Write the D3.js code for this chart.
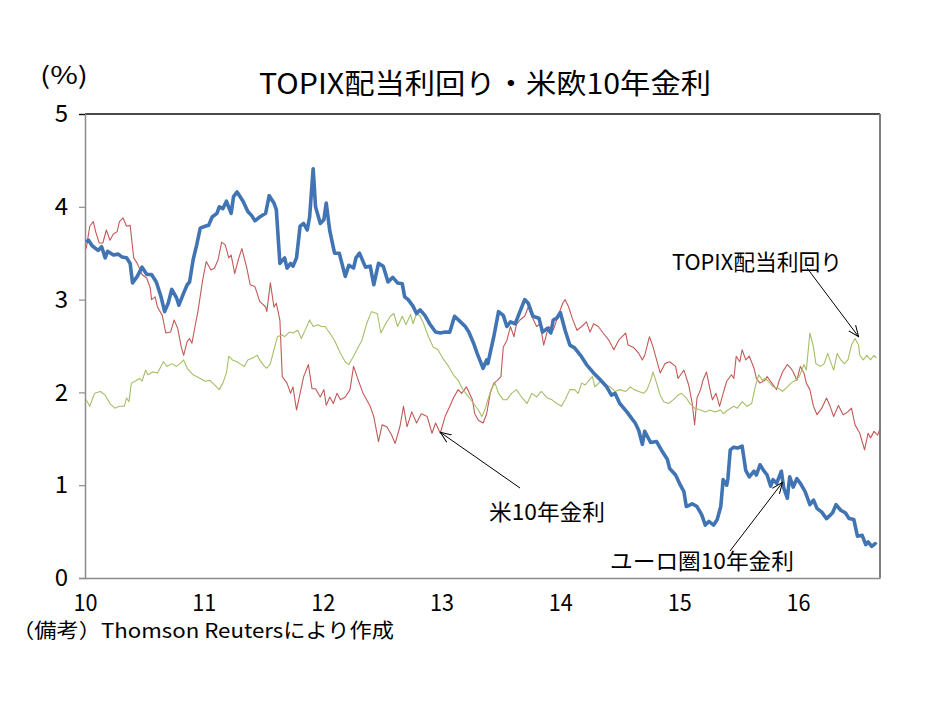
<!DOCTYPE html>
<html><head><meta charset="utf-8">
<script src="https://cdn.jsdelivr.net/npm/d3@7"></script>
<style>
html,body{margin:0;padding:0;background:#fff;}
svg{display:block;}
text{font-family:"Noto Sans CJK JP","Noto Sans",sans-serif;fill:#000;}
</style></head>
<body>
<svg id="chart" width="934" height="701"></svg>
<script>
// ---------------- data ----------------
const title = "TOPIX配当利回り・米欧10年金利";
const unitLabel = "(%)";
const note = "（備考）Thomson Reutersにより作成";
const yTicks = [0, 1, 2, 3, 4, 5];
const xTicks = [10, 11, 12, 13, 14, 15, 16];
const seriesNames = ["ユーロ圏10年金利", "米10年金利", "TOPIX配当利回り"];

// [year (decimal, 10 = 2010), %]
const euro10y = [
[10.01,3.62],[10.03,3.64],[10.06,3.58],[10.11,3.53],[10.14,3.57],[10.17,3.45],[10.19,3.52],[10.24,3.48],[10.28,3.49],[10.31,3.46],
[10.35,3.45],[10.38,3.39],[10.40,3.18],[10.44,3.25],[10.48,3.35],[10.52,3.27],[10.56,3.27],[10.60,3.19],[10.64,3.03],[10.67,2.87],
[10.70,2.96],[10.73,3.11],[10.77,3.02],[10.79,2.94],[10.83,3.07],[10.86,3.16],[10.88,3.19],[10.91,3.43],[10.94,3.59],[10.97,3.77],
[11.01,3.79],[11.04,3.80],[11.07,3.89],[11.11,3.93],[11.13,4.00],[11.16,3.98],[11.19,4.06],[11.23,3.93],[11.25,4.11],[11.28,4.16],
[11.33,4.06],[11.37,3.95],[11.40,3.91],[11.43,3.85],[11.47,3.89],[11.52,3.93],[11.55,4.12],[11.59,4.04],[11.61,3.97],[11.64,3.39],
[11.68,3.45],[11.70,3.34],[11.73,3.39],[11.75,3.36],[11.78,3.45],[11.81,3.79],[11.84,3.82],[11.87,3.75],[11.89,3.89],[11.92,4.41],
[11.94,4.00],[11.98,3.82],[12.01,3.86],[12.03,4.04],[12.06,3.74],[12.10,3.50],[12.14,3.50],[12.19,3.25],[12.22,3.37],[12.26,3.34],
[12.28,3.45],[12.31,3.50],[12.36,3.35],[12.40,3.36],[12.43,3.16],[12.47,3.39],[12.51,3.36],[12.55,3.19],[12.59,3.24],[12.63,3.18],
[12.67,3.17],[12.69,3.03],[12.72,3.00],[12.76,2.93],[12.79,2.85],[12.82,2.89],[12.86,2.83],[12.90,2.74],[12.95,2.65],[12.99,2.64],
[13.03,2.65],[13.07,2.65],[13.11,2.82],[13.16,2.76],[13.20,2.71],[13.23,2.65],[13.27,2.53],[13.30,2.42],[13.35,2.26],[13.38,2.35],
[13.39,2.31],[13.44,2.60],[13.48,2.87],[13.52,2.83],[13.55,2.71],[13.58,2.76],[13.62,2.74],[13.66,2.87],[13.70,3.00],[13.73,2.96],
[13.77,2.82],[13.82,2.80],[13.85,2.65],[13.89,2.69],[13.92,2.64],[13.94,2.78],[13.97,2.80],[14.00,2.86],[14.04,2.67],[14.08,2.51],
[14.12,2.48],[14.17,2.40],[14.22,2.30],[14.28,2.21],[14.34,2.13],[14.39,2.06],[14.43,1.97],[14.46,1.99],[14.50,1.88],[14.56,1.79],
[14.60,1.72],[14.63,1.67],[14.66,1.59],[14.69,1.44],[14.71,1.58],[14.76,1.46],[14.81,1.47],[14.85,1.38],[14.90,1.28],[14.92,1.18],
[14.97,1.11],[15.01,1.00],[15.04,0.93],[15.06,0.77],[15.11,0.80],[15.15,0.77],[15.19,0.68],[15.22,0.57],[15.25,0.61],[15.29,0.57],
[15.32,0.63],[15.35,0.77],[15.37,1.06],[15.40,1.00],[15.41,1.07],[15.43,1.38],[15.46,1.41],[15.49,1.40],[15.53,1.42],[15.56,1.16],
[15.59,1.09],[15.63,1.15],[15.65,1.11],[15.68,1.22],[15.71,1.16],[15.74,1.11],[15.77,0.99],[15.79,1.06],[15.82,1.02],[15.86,1.15],
[15.88,0.97],[15.91,0.86],[15.93,1.09],[15.96,0.98],[15.99,1.07],[16.02,1.02],[16.06,0.93],[16.10,0.79],[16.13,0.84],[16.16,0.75],
[16.20,0.71],[16.24,0.64],[16.29,0.70],[16.32,0.79],[16.36,0.73],[16.40,0.70],[16.43,0.64],[16.47,0.63],[16.50,0.45],[16.54,0.46],
[16.57,0.36],[16.59,0.39],[16.62,0.34],[16.65,0.37],[16.66,0.36]
];

const us10y = [
[10.01,3.55],[10.04,3.79],[10.07,3.84],[10.09,3.73],[10.12,3.61],[10.15,3.61],[10.18,3.75],[10.21,3.64],[10.24,3.71],[10.27,3.73],
[10.29,3.84],[10.32,3.88],[10.35,3.79],[10.38,3.80],[10.41,3.45],[10.44,3.39],[10.48,3.27],[10.52,3.23],[10.55,3.12],[10.56,3.00],
[10.59,3.03],[10.61,2.92],[10.65,2.83],[10.68,2.64],[10.72,2.65],[10.75,2.78],[10.78,2.69],[10.81,2.49],[10.83,2.40],[10.86,2.55],
[10.88,2.58],[10.90,2.53],[10.93,2.74],[10.95,2.87],[10.99,3.21],[11.02,3.41],[11.06,3.32],[11.09,3.34],[11.12,3.43],[11.15,3.62],
[11.18,3.59],[11.21,3.45],[11.23,3.48],[11.26,3.28],[11.29,3.43],[11.32,3.55],[11.36,3.35],[11.39,3.16],[11.43,3.14],[11.47,2.98],
[11.52,2.92],[11.53,2.87],[11.56,3.18],[11.59,2.92],[11.61,2.96],[11.64,2.78],[11.66,2.17],[11.70,2.10],[11.73,1.99],[11.75,2.06],
[11.78,1.81],[11.81,1.99],[11.84,2.17],[11.88,2.30],[11.91,2.04],[11.94,2.04],[11.98,1.95],[12.01,2.03],[12.03,1.86],[12.06,1.95],
[12.09,1.88],[12.12,1.99],[12.15,1.92],[12.19,1.95],[12.23,2.03],[12.26,2.28],[12.30,2.13],[12.34,1.99],[12.40,1.85],[12.43,1.74],
[12.47,1.47],[12.50,1.65],[12.54,1.63],[12.58,1.54],[12.61,1.45],[12.65,1.63],[12.68,1.85],[12.71,1.63],[12.75,1.79],[12.79,1.67],
[12.83,1.77],[12.88,1.74],[12.92,1.56],[12.95,1.67],[12.99,1.56],[13.03,1.74],[13.07,1.85],[13.10,1.94],[13.14,2.03],[13.17,1.99],
[13.21,2.06],[13.26,1.92],[13.28,1.77],[13.31,1.70],[13.35,1.67],[13.38,1.77],[13.41,1.99],[13.44,2.10],[13.47,2.13],[13.50,2.17],
[13.52,2.49],[13.55,2.56],[13.58,2.71],[13.61,2.60],[13.63,2.73],[13.66,2.78],[13.70,2.82],[13.73,2.92],[13.76,2.82],[13.80,2.71],
[13.83,2.74],[13.86,2.51],[13.90,2.71],[13.94,2.67],[13.98,2.82],[14.02,2.96],[14.04,3.00],[14.07,2.92],[14.10,2.80],[14.14,2.67],
[14.18,2.71],[14.22,2.76],[14.25,2.65],[14.28,2.74],[14.32,2.71],[14.36,2.64],[14.41,2.56],[14.45,2.46],[14.49,2.56],[14.52,2.60],
[14.55,2.64],[14.57,2.51],[14.62,2.48],[14.66,2.42],[14.69,2.35],[14.71,2.40],[14.75,2.60],[14.78,2.49],[14.81,2.35],[14.84,2.21],
[14.88,2.31],[14.92,2.33],[14.97,2.28],[14.99,2.15],[15.04,2.24],[15.08,2.08],[15.11,1.88],[15.13,1.65],[15.15,1.94],[15.18,2.03],
[15.20,2.13],[15.23,2.22],[15.26,2.03],[15.28,1.92],[15.31,1.99],[15.34,1.85],[15.37,1.99],[15.40,2.12],[15.44,2.19],[15.46,2.15],
[15.48,2.39],[15.51,2.33],[15.53,2.46],[15.56,2.35],[15.59,2.39],[15.63,2.26],[15.65,2.15],[15.68,2.10],[15.72,2.13],[15.74,2.17],
[15.78,2.10],[15.82,2.03],[15.84,2.12],[15.87,2.22],[15.91,2.30],[15.94,2.26],[15.96,2.22],[15.99,2.13],[16.02,2.28],[16.05,2.21],
[16.07,2.10],[16.10,2.03],[16.13,1.85],[16.16,1.76],[16.20,1.83],[16.24,1.94],[16.27,1.85],[16.30,1.74],[16.34,1.86],[16.38,1.76],
[16.42,1.79],[16.45,1.83],[16.48,1.65],[16.52,1.56],[16.56,1.38],[16.59,1.56],[16.61,1.51],[16.64,1.58],[16.67,1.54],[16.69,1.61]
];

const topixYield = [
[10.01,1.92],[10.04,1.85],[10.08,1.99],[10.13,2.01],[10.17,1.97],[10.21,1.88],[10.25,1.83],[10.29,1.85],[10.33,1.85],[10.35,1.94],
[10.37,1.90],[10.39,2.10],[10.42,2.12],[10.46,2.15],[10.48,2.12],[10.51,2.24],[10.53,2.19],[10.57,2.22],[10.61,2.21],[10.66,2.33],
[10.69,2.28],[10.73,2.31],[10.77,2.28],[10.80,2.31],[10.83,2.35],[10.86,2.26],[10.91,2.19],[10.97,2.15],[11.01,2.12],[11.05,2.13],
[11.09,2.08],[11.13,2.03],[11.16,2.10],[11.19,2.21],[11.21,2.39],[11.24,2.35],[11.28,2.33],[11.30,2.31],[11.34,2.28],[11.37,2.35],
[11.41,2.37],[11.45,2.40],[11.47,2.35],[11.51,2.28],[11.53,2.26],[11.56,2.31],[11.59,2.46],[11.62,2.60],[11.66,2.62],[11.68,2.60],
[11.72,2.65],[11.75,2.64],[11.79,2.67],[11.82,2.58],[11.86,2.69],[11.89,2.78],[11.92,2.71],[11.96,2.73],[11.99,2.71],[12.02,2.71],
[12.06,2.64],[12.10,2.56],[12.15,2.42],[12.19,2.33],[12.22,2.30],[12.26,2.39],[12.30,2.49],[12.33,2.56],[12.37,2.74],[12.41,2.87],
[12.46,2.85],[12.49,2.64],[12.53,2.74],[12.57,2.82],[12.60,2.85],[12.63,2.71],[12.67,2.82],[12.70,2.73],[12.74,2.84],[12.76,2.74],
[12.79,2.85],[12.82,2.82],[12.85,2.74],[12.89,2.60],[12.93,2.49],[12.97,2.46],[13.02,2.35],[13.06,2.28],[13.10,2.19],[13.14,2.13],
[13.18,2.03],[13.23,1.95],[13.27,1.88],[13.31,1.81],[13.34,1.74],[13.37,1.83],[13.39,1.92],[13.42,2.04],[13.45,2.10],[13.48,1.99],
[13.52,1.92],[13.55,1.92],[13.59,1.99],[13.63,2.03],[13.68,1.94],[13.72,1.88],[13.76,1.99],[13.80,1.95],[13.84,2.01],[13.89,1.94],
[13.93,1.92],[13.97,1.88],[14.01,1.85],[14.04,1.92],[14.08,2.03],[14.12,2.03],[14.15,1.99],[14.18,2.10],[14.21,2.08],[14.24,2.13],
[14.27,2.17],[14.29,2.06],[14.34,2.12],[14.38,2.08],[14.42,2.06],[14.46,2.01],[14.50,2.03],[14.55,2.01],[14.59,2.06],[14.62,2.03],
[14.66,2.01],[14.70,1.99],[14.73,2.03],[14.76,2.13],[14.78,2.22],[14.81,2.10],[14.84,1.97],[14.87,1.90],[14.91,1.88],[14.95,1.92],
[14.99,1.97],[15.02,1.99],[15.06,1.94],[15.09,1.88],[15.13,1.83],[15.18,1.81],[15.22,1.79],[15.26,1.81],[15.30,1.79],[15.35,1.81],
[15.37,1.77],[15.41,1.81],[15.46,1.85],[15.49,1.83],[15.53,1.90],[15.57,1.85],[15.61,1.88],[15.64,2.06],[15.67,2.19],[15.70,2.13],
[15.72,2.15],[15.75,2.12],[15.79,2.06],[15.84,2.04],[15.87,2.01],[15.91,2.06],[15.94,2.10],[15.98,2.13],[16.01,2.17],[16.05,2.30],
[16.07,2.24],[16.10,2.64],[16.13,2.49],[16.15,2.31],[16.19,2.28],[16.22,2.31],[16.25,2.42],[16.28,2.31],[16.30,2.24],[16.33,2.42],
[16.36,2.35],[16.39,2.31],[16.42,2.35],[16.45,2.51],[16.48,2.58],[16.51,2.51],[16.52,2.40],[16.55,2.35],[16.58,2.40],[16.61,2.35],
[16.64,2.40],[16.66,2.37]
];

// annotation arrow tips, in data units
const annotTips = [
  {name: "TOPIX配当利回り", t: 16.51, v: 2.60},
  {name: "米10年金利", t: 12.99, v: 1.57},
  {name: "ユーロ圏10年金利", t: 15.87, v: 1.03}
];

// ---------------- layout ----------------
const M = {left: 85, right: 880, top: 114, bottom: 578};
const svg = d3.select("#chart");

const x = d3.scaleLinear().domain([10, 16.69]).range([M.left, M.right]);
const y = d3.scaleLinear().domain([0, 5]).range([M.bottom, M.top]);

// frame: top black, right gray
svg.append("line").attr("x1", M.left).attr("x2", M.right).attr("y1", M.top).attr("y2", M.top)
  .attr("stroke", "#111").attr("stroke-width", 1.5);
svg.append("line").attr("x1", M.right).attr("x2", M.right).attr("y1", M.top).attr("y2", M.bottom)
  .attr("stroke", "#7f7f7f").attr("stroke-width", 2);

// y axis
const yAxis = svg.append("g").attr("transform", `translate(${M.left},0)`)
  .call(d3.axisLeft(y).tickValues(yTicks).tickFormat(d3.format("d")).tickSize(6).tickPadding(11));
yAxis.select(".domain").attr("stroke", "#8c8c8c").attr("stroke-width", 1.5);
yAxis.selectAll(".tick line").attr("stroke", "#8c8c8c").attr("stroke-width", 1.2);
yAxis.selectAll(".tick text").attr("font-size", 24).attr("font-family", "'Noto Sans CJK JP',sans-serif").attr("fill", "#000");
yAxis.select(".tick:last-of-type line").attr("stroke", "#111");

// x axis
const xAxis = svg.append("g").attr("transform", `translate(0,${M.bottom})`)
  .call(d3.axisBottom(x).tickValues(xTicks).tickFormat(d3.format("d")).tickSize(0));
xAxis.select(".domain").attr("stroke", "#8c8c8c").attr("stroke-width", 1.5);
xAxis.selectAll(".tick text").attr("font-size", 23).attr("y", 33).attr("dy", null)
  .attr("textLength", 24).attr("lengthAdjust", "spacingAndGlyphs")
  .attr("font-family", "'Noto Sans CJK JP',sans-serif").attr("fill", "#000");

// lines
const line = d3.line().x(d => x(d[0])).y(d => y(d[1]));
svg.append("path").datum(us10y).attr("d", line).attr("fill", "none")
  .attr("stroke", "#c25a58").attr("stroke-width", 1.1).attr("stroke-linejoin", "round");
svg.append("path").datum(topixYield).attr("d", line).attr("fill", "none")
  .attr("stroke", "#a5bf66").attr("stroke-width", 1.1).attr("stroke-linejoin", "round");
svg.append("path").datum(euro10y).attr("d", line).attr("fill", "none")
  .attr("stroke", "#4174b3").attr("stroke-width", 3.6).attr("stroke-linejoin", "round");

// title, unit, note
svg.append("text").attr("x", 485).attr("y", 94).attr("text-anchor", "middle")
  .attr("font-size", 28).attr("textLength", 452).attr("lengthAdjust", "spacingAndGlyphs").text(title);
svg.append("text").attr("x", 40).attr("y", 84).attr("font-size", 24)
  .attr("textLength", 48).attr("lengthAdjust", "spacingAndGlyphs").text(unitLabel);
svg.append("text").attr("x", 12).attr("y", 638).attr("font-size", 20)
  .attr("textLength", 382).attr("lengthAdjust", "spacingAndGlyphs").text(note);

// annotations
const defs = svg.append("defs");
defs.append("marker").attr("id", "arr").attr("viewBox", "0 -6 12 12").attr("refX", 11).attr("refY", 0)
  .attr("markerWidth", 12).attr("markerHeight", 12).attr("markerUnits", "userSpaceOnUse").attr("orient", "auto")
  .append("path").attr("d", "M0,-4.5L11,0L0,4.5").attr("fill", "none").attr("stroke", "#000").attr("stroke-width", 1);

const labelPos = [
  {tx: 672, ty: 270, w: 170, sx: 807, sy: 268},
  {tx: 489, ty: 520, w: 116, sx: 520, sy: 488},
  {tx: 610, ty: 569, w: 184, sx: 730, sy: 551}
];
annotTips.forEach((a, i) => {
  const p = labelPos[i];
  svg.append("line").attr("x1", p.sx).attr("y1", p.sy).attr("x2", x(a.t)).attr("y2", y(a.v))
    .attr("stroke", "#000").attr("stroke-width", 1).attr("marker-end", "url(#arr)");
  svg.append("text").attr("x", p.tx).attr("y", p.ty).attr("font-size", 22)
    .attr("textLength", p.w).attr("lengthAdjust", "spacingAndGlyphs").text(a.name);
});
</script>
</body></html>
